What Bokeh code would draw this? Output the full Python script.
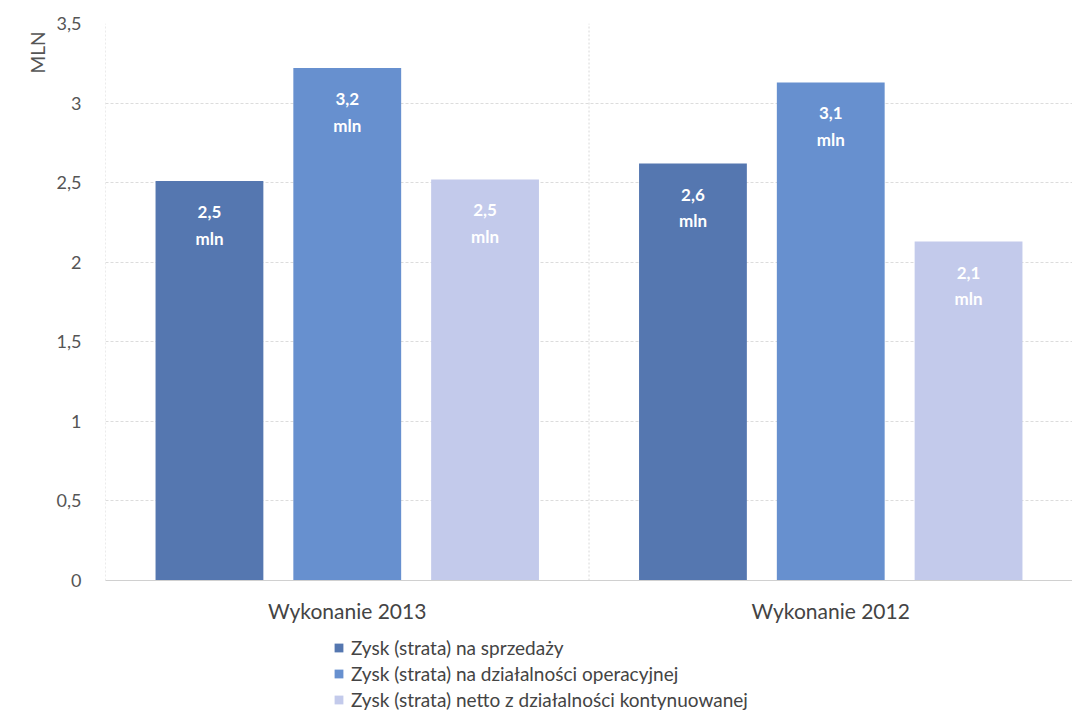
from bokeh.plotting import figure
from bokeh.layouts import column
from bokeh.models import ColumnDataSource, FixedTicker, Legend, LegendItem, Title, FactorRange, Range1d
from bokeh.transform import dodge
from bokeh.core.properties import value
from bokeh.embed import file_html
from bokeh.resources import INLINE

categories = ["Wykonanie 2013", "Wykonanie 2012"]
series_names = [
    "Zysk (strata) na sprzedaży",
    "Zysk (strata) na działalności operacyjnej",
    "Zysk (strata) netto z działalności kontynuowanej",
]
sprzedaz = [2.51, 2.62]
operacyjna = [3.22, 3.13]
netto = [2.52, 2.13]
y_ticks = [0, 0.5, 1, 1.5, 2, 2.5, 3, 3.5]
y_tick_labels = ["0", "0,5", "1", "1,5", "2", "2,5", "3", "3,5"]
colors = ["#5577b0", "#6790cf", "#c3caeb"]

FONT = "Lato"


def fmt(v):
    return f"{v:.1f}".replace(".", ",")


src = ColumnDataSource(dict(
    cat=categories,
    s0=sprzedaz, s1=operacyjna, s2=netto,
    l0=[fmt(v) for v in sprzedaz],
    l1=[fmt(v) for v in operacyjna],
    l2=[fmt(v) for v in netto],
    unit=["mln"] * len(categories),
    y0=[y_ticks[0]] * len(categories),
    y1=[y_ticks[-1]] * len(categories),
))

p = figure(
    x_range=FactorRange(factors=categories),
    y_range=Range1d(y_ticks[0], y_ticks[-1]),
    frame_width=967, frame_height=557,
    min_border_left=105, min_border_right=0, min_border_top=23, min_border_bottom=45,
    output_backend="svg", toolbar_location=None,
    background_fill_color="white", border_fill_color="white",
)
p.outline_line_color = None

# vertical separators at category boundaries
p.segment(x0=dodge("cat", -0.5, range=p.x_range), y0="y0",
          x1=dodge("cat", -0.5, range=p.x_range), y1="y1",
          source=src, line_color="#d8d8d8", line_dash="2 2", line_width=1)

offsets = [-0.285, 0.0, 0.285]
bar_w = 0.223
for i, off in enumerate(offsets):
    p.vbar(x=dodge("cat", off, range=p.x_range), top=f"s{i}", bottom=0,
           width=bar_w, source=src, fill_color=colors[i], line_color=None)
    p.text(x=dodge("cat", off, range=p.x_range), y=f"s{i}", text=f"l{i}",
           y_offset=31, text_align="center", text_baseline="middle",
           text_color="white", text_font=value(FONT), text_font_style="bold",
           text_font_size="17px", source=src)
    p.text(x=dodge("cat", off, range=p.x_range), y=f"s{i}", text="unit",
           y_offset=57, text_align="center", text_baseline="middle",
           text_color="white", text_font=value(FONT), text_font_style="bold",
           text_font_size="17px", source=src)

# grid
p.xgrid.grid_line_color = None
p.ygrid.ticker = FixedTicker(ticks=y_ticks)
p.ygrid.grid_line_color = "#dcdcdc"
p.ygrid.grid_line_dash = "3 2"

# axes
p.yaxis.ticker = FixedTicker(ticks=y_ticks)
p.yaxis.major_label_overrides = dict(zip(y_ticks, y_tick_labels))
p.yaxis.axis_line_color = None
p.yaxis.major_tick_line_color = None
p.yaxis.minor_tick_line_color = None
p.yaxis.major_label_text_font = FONT
p.yaxis.major_label_text_font_size = "18px"
p.yaxis.major_label_text_color = "#555555"
p.yaxis.major_label_standoff = 18

p.xaxis.axis_line_color = "#d0d0d0"
p.xaxis.major_tick_line_color = None
p.xaxis.minor_tick_line_color = None
p.xaxis.major_label_text_font = FONT
p.xaxis.major_label_text_font_size = "21px"
p.xaxis.major_label_text_color = "#444444"
p.xaxis.major_label_standoff = 11

p.add_layout(Title(text="MLN", align="right", text_font=FONT, text_font_size="19px",
                   text_font_style="normal", text_color="#555555", offset=8), "left")

# legend in its own strip below the chart (frame aligned with the chart's frame)
lg = figure(width=1072, height=86, x_range=Range1d(0, 1), y_range=Range1d(0, 1),
            x_axis_type=None, y_axis_type=None, min_border=0,
            output_backend="svg", toolbar_location=None,
            background_fill_color="white", border_fill_color="white")
lg.outline_line_color = None
lg.grid.visible = False
# swatch-only renderers, placed outside the visible range of the legend strip
legend_renderers = [
    lg.vbar(x=[-5], top=[-5], bottom=[-6], width=0.1, fill_color=colors[i], line_color=None)
    for i in range(3)
]
legend = Legend(
    items=[LegendItem(label=series_names[i], renderers=[legend_renderers[i]]) for i in range(3)],
    location=(228, 0), orientation="vertical",
    glyph_width=11, glyph_height=11, label_height=22, spacing=3,
    label_text_font=FONT, label_text_font_size="19px", label_text_color="#444444",
    label_standoff=7, padding=0, margin=0, border_line_color=None,
    background_fill_alpha=0,
)
lg.add_layout(legend)

layout = column(p, lg, spacing=0)
open("out.html", "w").write(file_html(layout, INLINE))
